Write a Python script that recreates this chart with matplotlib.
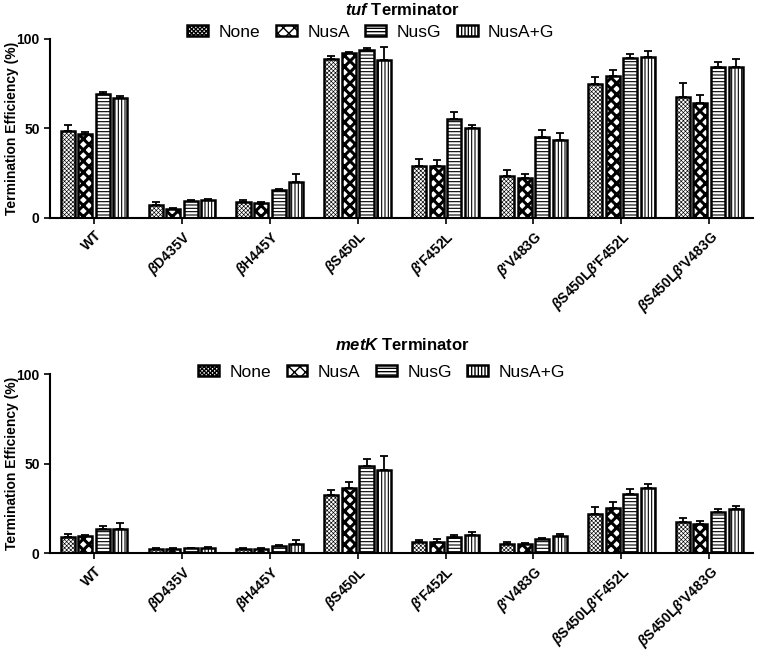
import numpy as np
import matplotlib
matplotlib.use('Agg')
import matplotlib.pyplot as plt
from matplotlib.patches import Patch

plt.rcParams['font.family'] = ['Liberation Sans', 'DejaVu Sans']
plt.rcParams['mathtext.fontset'] = 'custom'
plt.rcParams['mathtext.it'] = 'Liberation Sans:italic:bold'
plt.rcParams['mathtext.rm'] = 'Liberation Sans:bold'

# Data
strains = ['WT', r'$\beta$D435V', r'$\beta$H445Y', r'$\beta$S450L', r"$\beta$'F452L",
           r"$\beta$'V483G", r"$\beta$S450L$\beta$'F452L", r"$\beta$S450L$\beta$'V483G"]
conditions = ['None', 'NusA', 'NusG', 'NusA+G']

tuf_none = [48.7, 7.0, 8.7, 89.0, 29.3, 23.4, 74.7, 67.5]
tuf_nusa = [46.8, 5.0, 8.5, 92.0, 29.3, 22.5, 79.5, 64.5]
tuf_nusg = [69.1, 9.5, 15.4, 93.9, 55.4, 45.0, 89.6, 84.4]
tuf_nusag = [67.3, 9.8, 20.1, 88.3, 50.0, 43.8, 89.8, 84.4]
tuf_none_err = [3.3, 2.0, 1.1, 1.5, 3.7, 3.2, 3.9, 7.8]
tuf_nusa_err = [1.5, 0.5, 0.6, 1.0, 3.0, 2.0, 3.1, 4.3]
tuf_nusg_err = [1.5, 0.8, 0.8, 1.0, 4.0, 4.3, 2.2, 2.6]
tuf_nusag_err = [1.1, 0.6, 4.2, 7.4, 1.7, 3.5, 3.3, 4.4]

metk_none = [9.3, 2.2, 2.4, 32.6, 6.3, 5.0, 21.8, 17.5]
metk_nusa = [9.7, 2.2, 2.6, 36.6, 6.3, 5.0, 25.1, 16.4]
metk_nusg = [13.6, 2.8, 3.9, 48.8, 8.9, 7.8, 33.3, 23.2]
metk_nusag = [13.6, 3.1, 5.2, 46.4, 10.0, 9.5, 36.3, 24.7]
metk_none_err = [1.5, 0.5, 0.4, 2.6, 1.1, 1.1, 3.9, 2.1]
metk_nusa_err = [0.5, 0.5, 0.4, 3.2, 1.7, 0.6, 3.4, 1.9]
metk_nusg_err = [1.9, 0.4, 0.5, 3.9, 1.3, 0.6, 2.8, 1.5]
metk_nusag_err = [3.2, 0.5, 2.2, 8.2, 2.0, 1.5, 2.4, 1.5]

hatches = ['xxxxxxxx', 'xxx', '-----', '|||||']
hatch_lw = [0.45, 2.2, 0.8, 0.8]

fig = plt.figure(figsize=(7.6, 6.54), dpi=100)
ax1 = fig.add_axes([0.066, 0.6667, 0.925, 0.2737])
ax2 = fig.add_axes([0.066, 0.154, 0.925, 0.2737])

x = np.arange(len(strains))
width = 0.16
step = 0.2


def draw(ax, vals, errs, title, title_y, leg_x, leg_y):
    for i, (v, e) in enumerate(zip(vals, errs)):
        pos = x + (i - 1.5) * step
        with plt.rc_context({'hatch.linewidth': hatch_lw[i]}):
            ax.bar(pos, v, width, color='white', edgecolor='black', linewidth=1.8,
                   hatch=hatches[i], zorder=2)
        ax.errorbar(pos, v, yerr=[np.zeros(len(e)), e], fmt='none', ecolor='black',
                    elinewidth=1.3, capsize=3, capthick=1.3, zorder=1)
    ax.set_xlim(-0.5, 7.5)
    ax.set_ylim(0, 100)
    ax.set_yticks([0, 50, 100])
    ax.set_xticks(x)
    ax.set_xticklabels(strains, rotation=45, ha='right', rotation_mode='anchor',
                       fontsize=10, fontweight='bold')
    for lab in ax.get_yticklabels():
        lab.set_fontweight('bold')
        lab.set_fontsize(10)
    ax.set_ylabel('Termination Efficiency (%)', fontsize=10, fontweight='bold')
    ax.yaxis.set_label_coords(-0.044, 0.5)
    ax.spines['top'].set_visible(False)
    ax.spines['right'].set_visible(False)
    ax.spines['left'].set_linewidth(1.5)
    ax.spines['bottom'].set_linewidth(1.5)
    ax.tick_params(width=1.2, length=4)
    fig.text(0.529, title_y, title, ha='center', va='center', fontsize=12,
             fontweight='bold')
    handles = []
    for h, lw in zip(hatches, hatch_lw):
        with plt.rc_context({'hatch.linewidth': lw}):
            handles.append(Patch(facecolor='white', edgecolor='black', linewidth=1.8,
                                 hatch=h))
    fig.legend(handles, conditions, loc='center', bbox_to_anchor=(leg_x, leg_y),
               ncol=4, frameon=False, fontsize=12.5, handlelength=1.2,
               handleheight=0.65, columnspacing=0.9, handletextpad=0.6)


draw(ax1, [tuf_none, tuf_nusa, tuf_nusg, tuf_nusag],
     [tuf_none_err, tuf_nusa_err, tuf_nusg_err, tuf_nusag_err],
     r'$\it{tuf}$ Terminator', 0.985, 0.488, 0.951)
draw(ax2, [metk_none, metk_nusa, metk_nusg, metk_nusag],
     [metk_none_err, metk_nusa_err, metk_nusg_err, metk_nusag_err],
     r'$\it{metK}$ Terminator', 0.473, 0.502, 0.431)

fig.savefig('out.png', dpi=100)
